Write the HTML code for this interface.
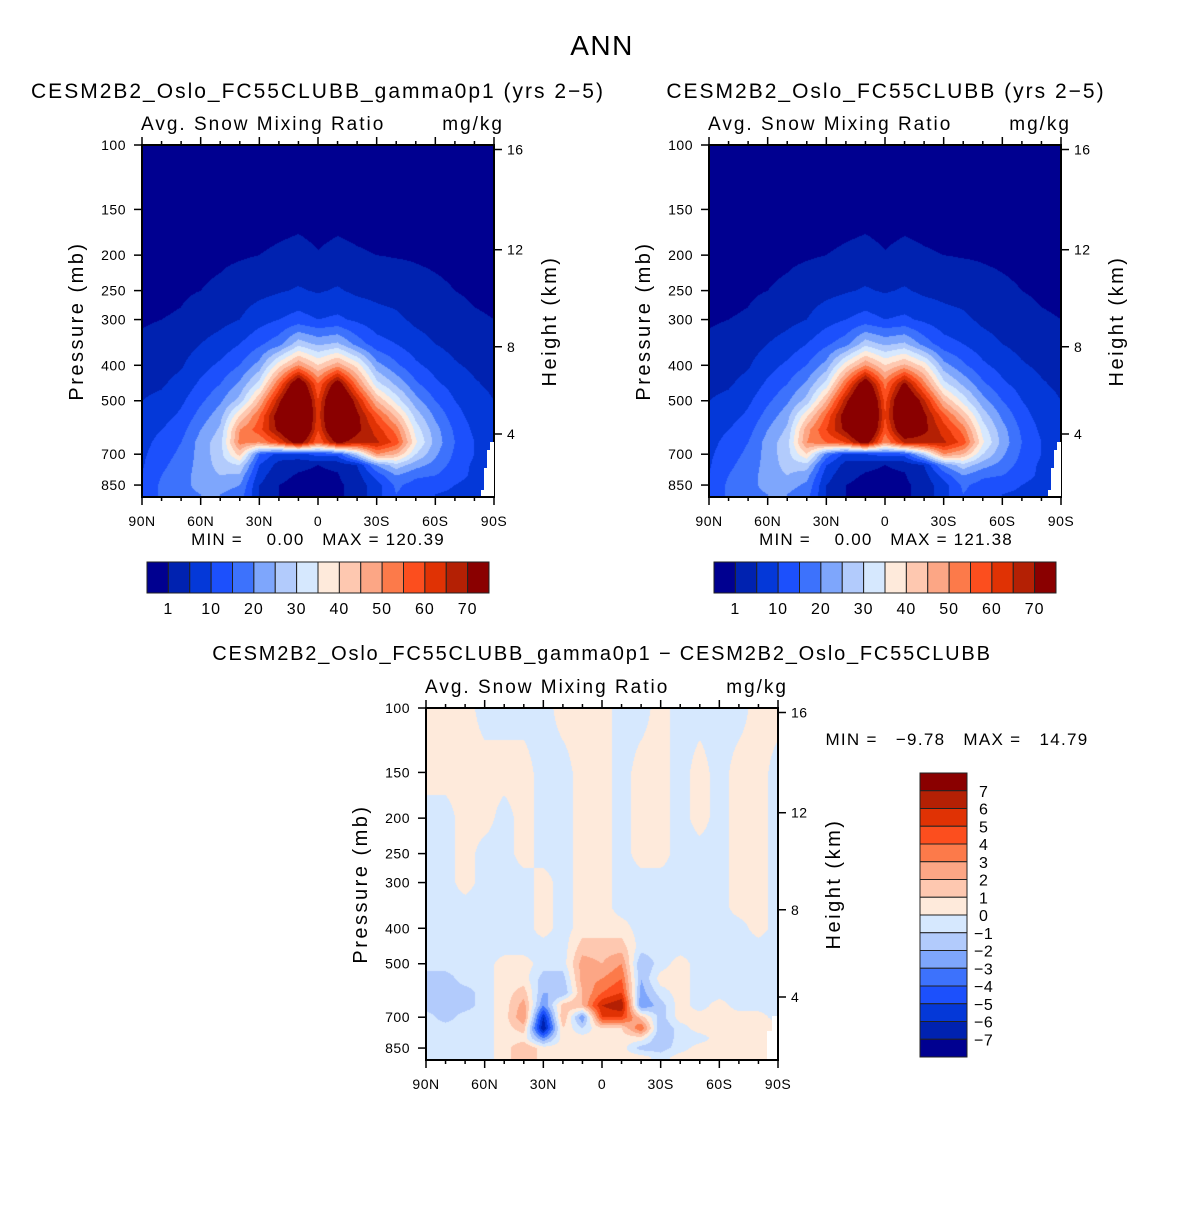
<!DOCTYPE html>
<html><head><meta charset="utf-8">
<style>
html,body{margin:0;padding:0;background:#fff;}
#wrap{position:relative;width:1204px;height:1206px;overflow:hidden;font-family:"Liberation Sans",sans-serif;}
canvas{position:absolute;}
svg{position:absolute;left:0;top:0;}
svg text{white-space:pre;}
</style></head>
<body>
<div id="wrap">
<canvas id="cA" width="352" height="352" style="left:142px;top:145px"></canvas>
<canvas id="cB" width="352" height="352" style="left:709px;top:145px"></canvas>
<canvas id="cD" width="352" height="352" style="left:426px;top:708px"></canvas>
<svg id="sv" width="1204" height="1206"></svg>
</div>
<script>
// ---- data ----
const lats=[90,80,70,60,50,40,30,20,10,0,-10,-20,-30,-40,-50,-60,-70,-80,-90];
const levs=[100,150,200,250,300,350,400,450,500,550,600,650,700,750,800,850,900];
// fieldA[latIndex][levIndex] mg/kg
const fieldA=[
[0,0,0,0.2,0.7,1.5,2.5,4,5,6,7,8,9,9.5,10,10,10],
[0,0,0,0.3,1,2,3.2,4.5,6,8,10,12,13,14,15,16,16],
[0,0,0,0.6,1.3,2.8,4.5,6.5,9,11,13,15,16,17,18,19,19],
[0,0,0.3,1,2.5,5,8,11,14,17,20,22,22,22,22,21,20],
[0,0,0.5,1.5,3.5,7,11,15,19,23,26,28,28,27,25,22,20],
[0,0.05,0.7,2.5,5,10,15,21,27,40,50,52,42,30,24,20,18],
[0,0.1,1,3.5,8,14,22,32,45,55,58,50,15,10,7,5,5],
[0,0.2,1.3,4.5,10,18,38,55,68,75,72,60,8,3,1.5,1,1],
[0,0.3,1.6,5.5,12,28,50,80,92,95,90,75,8,1.5,0.8,0.5,0.5],
[0,0.2,1.1,4.5,10,24,40,55,60,62,60,55,12,1,0.5,0.3,0.3],
[0,0.3,1.5,5.5,11,26,48,76,88,90,85,72,12,1.5,0.8,0.5,0.5],
[0,0.2,1.2,4,9,18,38,52,66,72,72,66,28,5,3,2,2],
[0,0.1,1,3.5,7,12,22,32,45,57,63,66,50,20,12,8,8],
[0,0.05,0.8,3,6,10,16,24,33,44,53,58,45,28,20,16,15],
[0,0,0.7,2,4,7,11,16,22,28,33,36,30,22,16,13,12],
[0,0,0.5,1.5,3,5,8,11,15,19,22,23,21,18,15,12,10],
[0,0,0.3,1,2,3.5,5.5,8,10,12,14,15,14,13,12,10,9],
[0,0,0.1,0.6,1.3,2.5,4,5.5,7,8,9,10,10,9,9,8,8],
[0,0,0,0.4,1,2,3,4,5,6,7,8,8,8,8,8,8]
];
const fieldB=[
[0,0,0,0.2,0.7,1.5,2.5,4,5,6,7,8,9,9.5,10,10,10],
[0,0,0,0.3,1,2,3.2,4.5,6,8,10,12,13,14,15,16,16],
[0,0,0,0.6,1.3,2.8,4.5,6.5,9,11,13,15,16,17,18,19,19],
[0,0,0.3,1,2.5,5,8,11,14,17,20,22,22,22,22,21,20],
[0,0,0.5,1.5,3.5,7,11,15,19,23,26,28,28,27,25,22,20],
[0,0.05,0.7,2.5,5,10,15,21,27,39,48,50,40,28,22,19,17],
[0,0.1,1,3.5,8,14,22,32,45,56,60,55,18,10,7,5,5],
[0,0.2,1.3,4.5,10,18,38,55,68,75,72,60,8,3,1.5,1,1],
[0,0.3,1.6,5.5,12,28,50,78,90,94,90,75,10,1.5,0.8,0.5,0.5],
[0,0.2,1.1,4.5,10,24,40,53,58,60,57,50,12,1,0.5,0.3,0.3],
[0,0.3,1.5,5.5,11,26,46,72,84,86,80,66,12,1.5,0.8,0.5,0.5],
[0,0.2,1.2,4,9,18,38,52,66,72,72,66,28,5,3,2,2],
[0,0.1,1,3.5,7,12,22,32,45,57,63,66,50,20,12,8,8],
[0,0.05,0.8,3,6,10,16,24,33,44,53,58,45,28,20,16,15],
[0,0,0.7,2,4,7,11,16,22,28,33,36,30,22,16,13,12],
[0,0,0.5,1.5,3,5,8,11,15,19,22,23,21,18,15,12,10],
[0,0,0.3,1,2,3.5,5.5,8,10,12,14,15,14,13,12,10,9],
[0,0,0.1,0.6,1.3,2.5,4,5.5,7,8,9,10,10,9,9,8,8],
[0,0,0,0.4,1,2,3,4,5,6,7,8,8,8,8,8,8]
];
// diffRows[levIndex][latIndex]
const diffRows=[
[.5,.5,.5,-.5,-.5,-.5,-.5,.5,.5,.5,-.5,-.5,.5,-.5,-.5,-.5,-.5,.5,.5],
[.5,.5,.5,.5,.5,.5,-.5,-.5,.5,.5,-.5,.5,.5,-.5,.5,-.5,.5,.5,-.5],
[-.5,-.5,.5,.5,-.5,.5,-.5,-.5,.5,.5,-.5,.5,.5,-.5,.5,-.5,.5,.5,-.5],
[-.5,-.5,.5,-.5,-.5,.5,-.5,-.5,.5,.5,-.5,.5,.5,-.5,-.5,-.5,.5,.5,-.5],
[-.5,-.5,.5,-.5,-.5,-.5,.5,-.5,.5,.5,-.5,-.5,-.5,-.5,-.5,-.5,.5,.5,-.5],
[-.5,-.5,-.5,-.5,-.5,-.5,.5,-.5,.5,.5,-.5,-.5,-.5,-.5,-.5,-.5,.5,.5,-.5],
[-.5,-.5,-.5,-.5,-.5,-.5,.5,-.5,.5,.5,.5,-.5,-.5,-.5,-.5,-.5,-.5,.5,-.5],
[-.5,-.5,-.5,-.5,-.5,-.5,-.5,-.5,1.5,1.5,1.5,-.5,-.5,-.5,-.5,-.5,-.5,-.5,-.5],
[-.5,-.5,-.5,-.5,.5,.5,-.5,-.5,2.5,2,3,-2,-.5,.5,-.5,-.5,-.5,-.5,-.5],
[-1.5,-1.5,-.5,-.5,.5,.5,-1.5,-1.5,2.5,3,4,-2,.5,.5,-.5,-.5,-.5,-.5,-.5],
[-1.5,-1.5,-1.5,-.5,.5,1.5,-2,-2,2,4,5,-2.5,-.5,.5,-.5,-.5,-.5,-.5,-.5],
[-1.5,-1.5,-1.5,-.5,.5,2.5,-3,1.5,2,6,7,-3,-1.5,.5,-.5,.5,-.5,-.5,-.5],
[-.5,-1.5,-.5,-.5,.5,3,-6,2,-3,5,5,1.5,-1.5,.5,.5,.5,.5,.5,-.5],
[-.5,-.5,-.5,-.5,.5,1.5,-7,1,-1,1,1,4,-2,-.5,.5,.5,.5,.5,.5],
[-.5,-.5,-.5,-.5,.5,.5,-3,.5,.5,.5,.5,.5,-2,-.5,-.5,.5,.5,.5,.5],
[-.5,-.5,-.5,-.5,.5,2,.5,.5,.5,.5,.5,-1.5,-1.5,-.5,.5,.5,.5,.5,.5],
[-.5,-.5,-.5,-.5,.5,2,.5,.5,.5,.5,.5,.5,-.5,.5,.5,.5,.5,.5,.5]
];
const levelsTop=[1,5,10,15,20,25,30,35,40,45,50,55,60,65,70];
const levelsDiff=[-7,-6,-5,-4,-3,-2,-1,0,1,2,3,4,5,6,7];
const topCbLabels=['1','10','20','30','40','50','60','70'];
const diffCbLabels=['7','6','5','4','3','2','1','0','\u22121','\u22122','\u22123','\u22124','\u22125','\u22126','\u22127'];
const presTicks=[100,150,200,250,300,400,500,700,850];
const heightTicks=[16,12,8,4];
const latLabels=['90N','60N','30N','0','30S','60S','90S'];
const colors=['#000090','#0022b0','#0438d8','#1c50fc','#3d72fc','#7ea6fc','#b2cbfc','#d6e8fe','#feeadb','#fec8b0','#fca685','#fc7a4a','#fc4e1e','#e03204','#b42004','#8a0000'];

// ---- scales ----
const W=352,H=352,K=158.9;
function xOfLat(lat){return (90-lat)/180*W;}
function yOfP(p){return K*Math.log(p/100);}
function hexToRgb(h){return [parseInt(h.substr(1,2),16),parseInt(h.substr(3,2),16),parseInt(h.substr(5,2),16)];}
const rgb=colors.map(hexToRgb);
const lnLevs=levs.map(p=>Math.log(p));

function sample(get,lat,p){
  let fi=(90-lat)/10; if(fi<0)fi=0; if(fi>18)fi=18;
  let i0=Math.min(17,Math.floor(fi)),tx=fi-i0;
  const lp=Math.log(p);
  let j0=0;
  if(lp<=lnLevs[0]){j0=0;} else if(lp>=lnLevs[16]){j0=15;} else {while(j0<15&&lnLevs[j0+1]<lp)j0++;}
  let ty=(lp-lnLevs[j0])/(lnLevs[j0+1]-lnLevs[j0]); ty=Math.max(0,Math.min(1,ty));
  const a=get(i0,j0),b=get(i0+1,j0),c=get(i0,j0+1),d=get(i0+1,j0+1);
  return (a*(1-tx)+b*tx)*(1-ty)+(c*(1-tx)+d*tx)*ty;
}
function render(id,get,levels){
  const cv=document.getElementById(id),ctx=cv.getContext('2d');
  const img=ctx.createImageData(W,H);
  for(let py=0;py<H;py++){
    const p=100*Math.exp((py+0.5)/K);
    for(let px=0;px<W;px++){
      const lat=90-(px+0.5)/W*180;
      const v=sample(get,lat,p);
      let k=0;while(k<levels.length&&v>=levels[k])k++;
      const c=rgb[k],o=(py*W+px)*4;
      img.data[o]=c[0];img.data[o+1]=c[1];img.data[o+2]=c[2];img.data[o+3]=255;
    }
  }
  ctx.putImageData(img,0,0);
}
render('cA',(i,j)=>fieldA[i][j],levelsTop);
render('cB',(i,j)=>fieldB[i][j],levelsTop);
render('cD',(i,j)=>diffRows[j][i],levelsDiff);

// ---- svg annotations ----
const NS='http://www.w3.org/2000/svg';
const sv=document.getElementById('sv');
function el(tag,attrs,parent,txt){
  const e=document.createElementNS(NS,tag);
  for(const k in attrs)e.setAttribute(k,attrs[k]);
  if(txt!==undefined)e.textContent=txt;
  (parent||sv).appendChild(e);return e;
}
function text(x,y,s,size,anchor,name,rot,ls){
  const t=el('text',{x:x,y:y,'font-size':size,'text-anchor':anchor||'start',fill:'#000','font-family':'Liberation Sans, sans-serif','letter-spacing':(ls===undefined?1:ls)},sv,s);
  if(rot)t.setAttribute('transform','rotate(-90 '+x+' '+y+')');
  
  
  return t;
}
function pOfZ(z){return 1013.25*Math.pow(1-0.0065*z*1000/288.15,5.2559);}
function pOfZstrat(z){ if(z<=11) return pOfZ(z); return 226.32*Math.exp(-(z-11)*1000/6341.6);}

function axes(x0,y0,tag){
  const g=el('g',{});
  
  
  el('rect',{x:x0,y:y0,width:W,height:H,fill:'none',stroke:'#000','stroke-width':2},g);
  for(let lat=90;lat>=-90;lat-=10){
    const x=x0+xOfLat(lat),major=(lat%30===0),L=major?8:4;
    el('line',{x1:x,y1:y0+H,x2:x,y2:y0+H+L,stroke:'#000','stroke-width':1.5},g);
    el('line',{x1:x,y1:y0,x2:x,y2:y0-L,stroke:'#000','stroke-width':1.5},g);
  }
  latLabels.forEach((s,i)=>{text(x0+xOfLat(90-i*30),y0+H+29,s,14,'middle',tag+'-lat-label',false,0.5);});
  presTicks.forEach(p=>{
    const y=y0+yOfP(p);
    el('line',{x1:x0,y1:y,x2:x0-8,y2:y,stroke:'#000','stroke-width':1.5},g);
    text(x0-16,y+5,String(p),14,'end',tag+'-pressure-label',false,0.5);
  });
  heightTicks.forEach(z=>{
    const y=y0+yOfP(pOfZstrat(z));
    el('line',{x1:x0+W,y1:y,x2:x0+W+8,y2:y,stroke:'#000','stroke-width':1.5},g);
    text(x0+W+13,y+5,String(z),14,'start',tag+'-height-label',false,0.5);
  });
  text(x0-59,y0+176,'Pressure (mb)',20,'middle',tag+'-y-axis-title',true,2.5);
  text(x0+W+62,y0+176,'Height (km)',20,'middle',tag+'-y2-axis-title',true,2.5);
  text(x0-1,y0-15,'Avg. Snow Mixing Ratio',19,'start',tag+'-variable-label',false,2);
  text(x0+W+10,y0-15,'mg/kg',19,'end',tag+'-units-label',false,2);
}
function hcolorbar(x0,y0,tag){
  const w=342/16;
  colors.forEach((c,i)=>{
    const r=el('rect',{x:x0+i*w,y:y0,width:w,height:31,fill:c,stroke:'#222','stroke-width':1});
    
    
  });
  topCbLabels.forEach((s,i)=>{text(x0+(i===0?1:2*i+1)*w,y0+52,s,16,'middle',tag+'-colorbar-label',false,1);});
}
text(602,55,'ANN',28,'middle','figure-title',false,1.5);
text(318,98,'CESM2B2_Oslo_FC55CLUBB_gamma0p1 (yrs 2\u22125)',21,'middle','panel1-title',false,2);
text(886,98,'CESM2B2_Oslo_FC55CLUBB (yrs 2\u22125)',21,'middle','panel2-title',false,2);
text(602,660,'CESM2B2_Oslo_FC55CLUBB_gamma0p1 \u2212 CESM2B2_Oslo_FC55CLUBB',20,'middle','diff-title',false,1.8);
axes(142,145,'panel1');
axes(709,145,'panel2');
axes(426,708,'diff');
[[142,145],[709,145]].forEach(o=>{
  const m=el('path',{d:'M'+(o[0]+348)+' '+(o[1]+297)+' h4 v54 h-13 v-6 h3 v-22 h3 v-18 h3 z',fill:'#fff'});
  
  
});
const md=el('path',{d:'M'+(426+346)+' '+(708+308)+' h5 v43 h-10 v-28 h5 z',fill:'#fff'});


text(318,545,'MIN =    0.00   MAX = 120.39',17,'middle','panel1-minmax',false,1.2);
text(886,545,'MIN =    0.00   MAX = 121.38',17,'middle','panel2-minmax',false,1.2);
text(957,745,'MIN =   \u22129.78   MAX =   14.79',17,'middle','diff-minmax',false,1.3);
hcolorbar(147,562,'panel1');
hcolorbar(714,562,'panel2');
const vh=284/16;
colors.slice().reverse().forEach((c,i)=>{
  const r=el('rect',{x:920,y:773+i*vh,width:47,height:vh,fill:c,stroke:'#222','stroke-width':1});
  
  
});
diffCbLabels.forEach((s,i)=>{text(s.length>1?974:979,773+(i+1)*vh+6,s,16,'start','diff-colorbar-label',false,0.5);});
</script>
</body></html>
